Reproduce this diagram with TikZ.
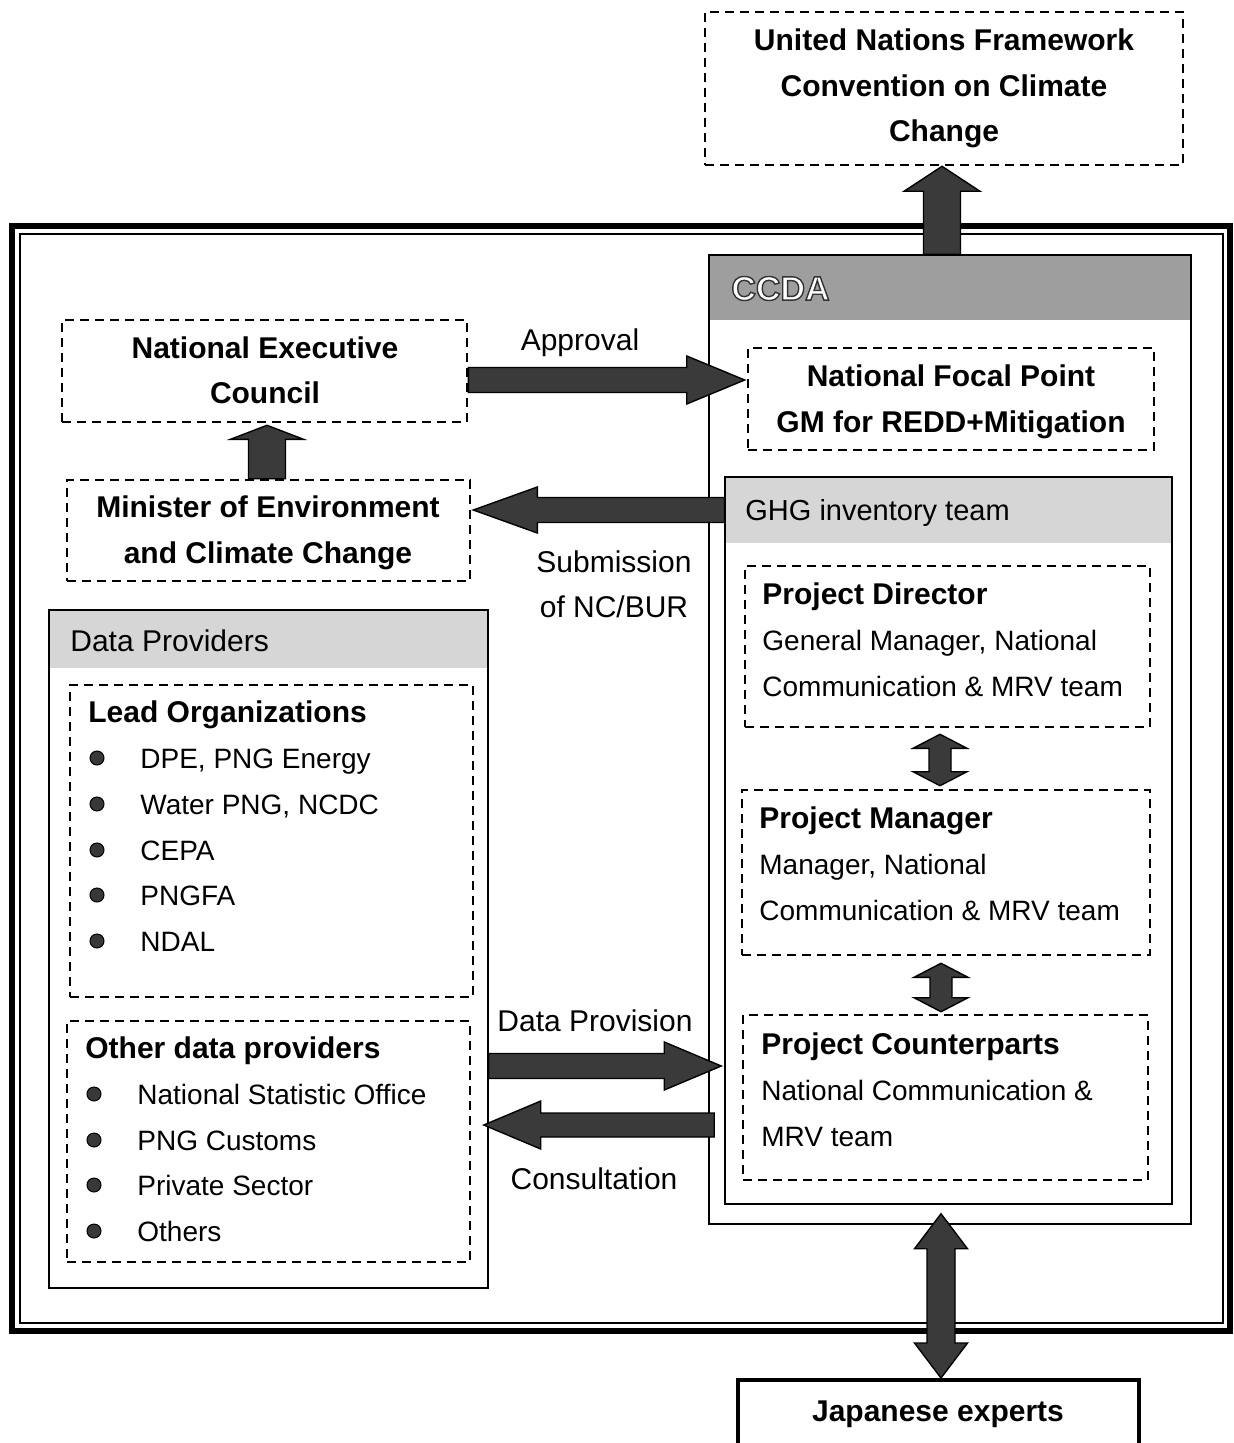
\documentclass[tikz,border=0pt]{standalone}
\usepackage{fontspec}
\setmainfont{Liberation Sans}
\usetikzlibrary{fit,calc}

\definecolor{ccdagray}{RGB}{158,158,158}
\definecolor{headgray}{RGB}{214,214,214}
\definecolor{arrowfill}{RGB}{58,58,58}

% white letters with a dark outline (PDF text render mode fill+stroke)
\newcommand\outlinedtext[1]{\textcolor{white}{\special{pdf:literal direct 2 Tr 0.7 w 0.2 G}#1\special{pdf:literal direct 0 Tr}}}

% wide block arrow: tail, tip, half shaft width, half head width, head length
\newcommand\onearrow[5]{%
  \coordinate (fa-h) at ($(#2)!#5!(#1)$);
  \draw[fatarr] ($(#1)!#3!90:(#2)$) -- ($(fa-h)!#3!-90:(#1)$) -- ($(fa-h)!#4!-90:(#1)$)
    -- (#2) -- ($(fa-h)!#4!90:(#1)$) -- ($(fa-h)!#3!90:(#1)$) -- ($(#1)!#3!-90:(#2)$) -- cycle;
}
% block arrow with heads at both ends
\newcommand\twoarrow[5]{%
  \coordinate (fa-a) at ($(#1)!#5!(#2)$);
  \coordinate (fa-b) at ($(#2)!#5!(#1)$);
  \draw[fatarr] (#1) -- ($(fa-a)!#4!90:(#2)$) -- ($(fa-a)!#3!90:(#2)$)
    -- ($(fa-b)!#3!-90:(#1)$) -- ($(fa-b)!#4!-90:(#1)$) -- (#2)
    -- ($(fa-b)!#4!90:(#1)$) -- ($(fa-b)!#3!90:(#1)$)
    -- ($(fa-a)!#3!-90:(#2)$) -- ($(fa-a)!#4!-90:(#2)$) -- cycle;
}

\tikzset{
  dbox/.style={draw, dash pattern=on 4.5pt off 3pt, line width=1.3pt, inner sep=0pt},
  sbox/.style={draw, line width=0.75pt, inner sep=0pt},
  headband/.style={inner sep=0pt},
  frameout/.style={draw, line width=2.6pt, inner sep=0pt},
  framein/.style={draw, line width=0.8pt, inner sep=0pt},
  jbox/.style={draw, line width=2pt, inner sep=0pt},
  fatarr/.style={fill=arrowfill, draw=black, line width=0.7pt, line join=miter},
  rt/.style={inner sep=0pt, text height=10pt, text depth=0pt, font=\fontsize{14pt}{17pt}\selectfont},
  bt/.style={inner sep=0pt, text height=10.75pt, text depth=0pt, font=\fontsize{15pt}{18pt}\selectfont\bfseries},
  lab/.style={inner sep=0pt, text height=10.75pt, text depth=0pt, font=\fontsize{15pt}{18pt}\selectfont},
  bul/.style={circle, fill=black!78, draw=black, line width=0.5pt, minimum size=7pt, inner sep=0pt},
}

\begin{document}
\begin{tikzpicture}[x=0.5pt, y=-0.5pt]
\useasboundingbox (0,0) rectangle (1234,1443);

% UNFCCC
\node[dbox, fit={(705,12) (1183,165)}] (unfccc) {};
\node[bt] (un1) at (944,40) {United Nations Framework};
\node[bt] (un2) at (944,86) {Convention on Climate};
\node[bt] (un3) at (944,131) {Change};

% national frame
\node[frameout, fit={(12,226) (1230,1331)}] (frame) {};
\node[framein, fit={(20,234) (1223,1323)}] (framein) {};

% CCDA
\node[headband, fill=ccdagray, fit={(709,255) (1191,320)}] (ccdahead) {};
\node[sbox, fit={(709,255) (1191,1224)}] (ccda) {};
\node[bt, anchor=west, font=\fontsize{17pt}{19pt}\selectfont\bfseries, text height=12.2pt] (ccdatxt) at (731,288) {\outlinedtext{CCDA}};

\node[dbox, fit={(748,348) (1154,450)}] (nfp) {};
\node[bt] (nfp1) at (951,376) {National Focal Point};
\node[bt] (nfp2) at (951,422) {GM for REDD+Mitigation};

% GHG inventory team
\node[headband, fill=headgray, fit={(725,477) (1172,543)}] (ghghead) {};
\node[sbox, fit={(725,477) (1172,1204)}] (ghg) {};
\node[lab, anchor=west, font=\fontsize{14.5pt}{18pt}\selectfont, text height=10.4pt] (ghgtxt) at (745,510) {GHG inventory team};

\node[dbox, fit={(745,566) (1150,727)}] (pd) {};
\node[bt, anchor=west] (pd1) at (762,594) {Project Director};
\node[rt, anchor=west] (pd2) at (762,640) {General Manager, National};
\node[rt, anchor=west] (pd3) at (762,686) {Communication \& MRV team};

\node[dbox, fit={(742,790) (1150,955)}] (pm) {};
\node[bt, anchor=west] (pm1) at (759,818) {Project Manager};
\node[rt, anchor=west] (pm2) at (759,864) {Manager, National};
\node[rt, anchor=west] (pm3) at (759,910) {Communication \& MRV team};

\node[dbox, fit={(743,1015) (1148,1180)}] (pc) {};
\node[bt, anchor=west] (pc1) at (761,1044) {Project Counterparts};
\node[rt, anchor=west] (pc2) at (761,1090) {National Communication \&};
\node[rt, anchor=west] (pc3) at (761,1136) {MRV team};

% government
\node[dbox, fit={(62,320) (467,422)}] (nec) {};
\node[bt] (nec1) at (265,348) {National Executive};
\node[bt] (nec2) at (265,393) {Council};

\node[dbox, fit={(67,480) (470,581)}] (minister) {};
\node[bt] (min1) at (268,507) {Minister of Environment};
\node[bt] (min2) at (268,553) {and Climate Change};

% data providers
\node[headband, fill=headgray, fit={(49,610) (488,668)}] (dphead) {};
\node[sbox, fit={(49,610) (488,1288)}] (dp) {};
\node[lab, anchor=west] (dptxt) at (70,641) {Data Providers};

\node[dbox, fit={(70,685) (473,997)}] (lead) {};
\node[bt, anchor=west] (lead0) at (88,712) {Lead Organizations};
\node[bul] (lb1) at (97,758) {};
\node[bul] (lb2) at (97,804) {};
\node[bul] (lb3) at (97,850) {};
\node[bul] (lb4) at (97,895) {};
\node[bul] (lb5) at (97,941) {};
\node[rt, anchor=west] (lead1) at (140,758) {DPE, PNG Energy};
\node[rt, anchor=west] (lead2) at (140,804) {Water PNG, NCDC};
\node[rt, anchor=west] (lead3) at (140,850) {CEPA};
\node[rt, anchor=west] (lead4) at (140,895) {PNGFA};
\node[rt, anchor=west] (lead5) at (140,941) {NDAL};

\node[dbox, fit={(67,1021) (470,1262)}] (other) {};
\node[bt, anchor=west] (oth0) at (85,1048) {Other data providers};
\node[bul] (ob1) at (94,1094) {};
\node[bul] (ob2) at (94,1140) {};
\node[bul] (ob3) at (94,1185) {};
\node[bul] (ob4) at (94,1231) {};
\node[rt, anchor=west] (oth1) at (137,1094) {National Statistic Office};
\node[rt, anchor=west] (oth2) at (137,1140) {PNG Customs};
\node[rt, anchor=west] (oth3) at (137,1185) {Private Sector};
\node[rt, anchor=west] (oth4) at (137,1231) {Others};

% Japanese experts
\node[jbox, fit={(738,1380) (1139,1460)}] (jp) {};
\node[bt] (jptxt) at (938,1411) {Japanese experts};

% arrow labels
\node[lab] (lapp) at (580,340) {Approval};
\node[lab] (lsub1) at (614,562) {Submission};
\node[lab] (lsub2) at (614,607) {of NC/BUR};
\node[lab] (ldat) at (595,1021) {Data Provision};
\node[lab] (lcon) at (594,1179) {Consultation};

% arrow end points
\coordinate (unT) at (ccda.north -| 942,0);
\coordinate (unH) at (unfccc.south -| 942,0);
\coordinate (apT) at (nec.east |- 0,380);
\coordinate (apH) at ($(nfp.west |- 0,380)+(-2,0)$);
\coordinate (suT) at (ghghead.west);
\coordinate (suH) at ($(minister.east |- ghghead.west)+(2,0)$);
\coordinate (mnT) at (minister.north -| 267,0);
\coordinate (mnH) at ($(nec.south -| 267,0)+(0,2)$);
\coordinate (dm1) at ($(pd.south -| 940,0)+(0,6)$);
\coordinate (dm2) at ($(pm.north -| 940,0)+(0,-3)$);
\coordinate (mc1) at ($(pm.south -| 941,0)+(0,7)$);
\coordinate (mc2) at ($(pc.north -| 941,0)+(0,-2)$);
\coordinate (dpT) at (dp.east |- 0,1066);
\coordinate (dpH) at ($(ghg.west |- 0,1066)+(-3,0)$);
\coordinate (coT) at ($(ghg.west |- 0,1125)+(-10,0)$);
\coordinate (coH) at ($(dp.east |- 0,1125)+(-5,0)$);
\coordinate (jp1) at ($(ccda.south -| 941,0)+(0,-11)$);
\coordinate (jp2) at (jp.north -| 941,0);

% arrows
\onearrow{unT}{unH}{9.25pt}{19pt}{12.5pt}
\onearrow{apT}{apH}{6.25pt}{12pt}{29pt}
\onearrow{suT}{suH}{6.25pt}{11.5pt}{32pt}
\onearrow{mnT}{mnH}{9.25pt}{18.25pt}{7pt}
\twoarrow{dm1}{dm2}{5.5pt}{13.5pt}{7pt}
\twoarrow{mc1}{mc2}{5.5pt}{13.5pt}{7pt}
\onearrow{dpT}{dpH}{6.25pt}{12pt}{28.5pt}
\onearrow{coT}{coH}{6pt}{12pt}{28.5pt}
\twoarrow{jp1}{jp2}{7pt}{13.25pt}{17.5pt}

\end{tikzpicture}
\end{document}
